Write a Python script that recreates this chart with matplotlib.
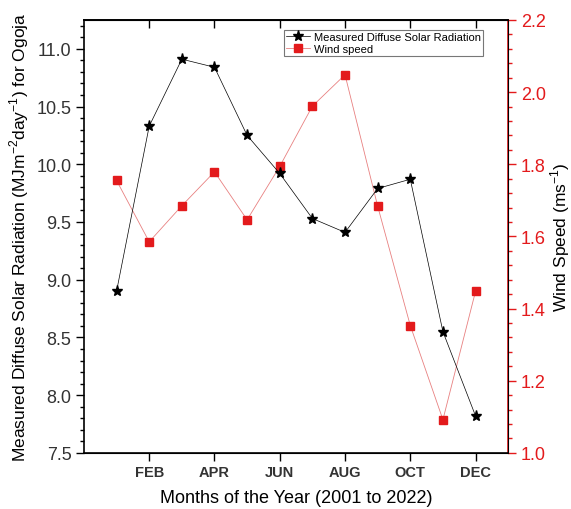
import matplotlib.pyplot as plt
from matplotlib.ticker import MultipleLocator

plt.rcParams['font.family'] = ['Liberation Sans', 'DejaVu Sans']
plt.rcParams['mathtext.fontset'] = 'custom'
plt.rcParams['mathtext.rm'] = 'Liberation Sans'

# Daten (Monate 1..12)
months = [1, 2, 3, 4, 5, 6, 7, 8, 9, 10, 11, 12]
radiation = [8.90, 10.33, 10.91, 10.84, 10.25, 9.92, 9.53, 9.41, 9.79, 9.87, 8.55, 7.82]
wind = [1.755, 1.585, 1.685, 1.779, 1.646, 1.794, 1.961, 2.048, 1.684, 1.353, 1.092, 1.448]
tick_pos = [2, 4, 6, 8, 10, 12]
tick_labels = ['FEB', 'APR', 'JUN', 'AUG', 'OCT', 'DEC']

red = '#e31a1c'
grey = '#333333'

fig = plt.figure(figsize=(5.71, 5.10), dpi=100)
ax = fig.add_axes([0.147, 0.110, 0.743, 0.849])
ax2 = ax.twinx()

l1, = ax.plot(months, radiation, color='black', lw=0.5, marker='*', ms=8,
              label='Measured Diffuse Solar Radiation')
l2, = ax2.plot(months, wind, color='#e88080', lw=0.6, marker='s', ms=5.5,
               mfc=red, mec=red, label='Wind speed')

ax.set_xlim(0, 13)
ax.set_ylim(7.5, 11.25)
ax2.set_ylim(1.0, 2.2)

ax.set_xticks(tick_pos)
ax.set_xticklabels(tick_labels, fontweight='bold', fontsize=10.5, color=grey)
ax.yaxis.set_major_locator(MultipleLocator(0.5))
ax.yaxis.set_minor_locator(MultipleLocator(0.1))
ax.yaxis.set_major_formatter('{x:.1f}')
ax2.yaxis.set_major_locator(MultipleLocator(0.2))
ax2.yaxis.set_minor_locator(MultipleLocator(0.04))
ax2.yaxis.set_major_formatter('{x:.1f}')

ax.tick_params(axis='y', direction='out', labelsize=13, labelcolor=grey, length=6, width=1, pad=3)
ax.tick_params(axis='y', which='minor', direction='out', length=3, width=1)
ax.tick_params(axis='x', direction='out', length=6, width=1, pad=3, top=False)
ax2.tick_params(axis='y', colors=red, labelsize=13, direction='out', length=6, width=1, pad=3)
ax2.tick_params(axis='y', which='minor', colors=red, direction='out', length=3, width=1)

# obere Ticks nach innen
sec = ax.secondary_xaxis('top')
sec.set_xticks(tick_pos)
sec.set_xticklabels([])
sec.tick_params(direction='in', length=6, width=1)

for s in ['left', 'bottom', 'top']:
    ax.spines[s].set_linewidth(1.2)
ax2.spines['right'].set_color(red)
ax2.spines['right'].set_linewidth(1.2)
ax2.spines['left'].set_visible(False)
sec.spines['top'].set_linewidth(1.2)

ax.set_xlabel('Months of the Year (2001 to 2022)', fontsize=13, labelpad=7)
ax.set_ylabel('Measured Diffuse Solar Radiation (MJm$^{-2}$day$^{-1}$) for Ogoja',
              fontsize=12.5, labelpad=4)
ax2.set_ylabel('Wind Speed (ms$^{-1}$)', fontsize=12.5, labelpad=2)

leg = ax.legend([l1, l2], ['Measured Diffuse Solar Radiation', 'Wind speed'],
                loc='upper right', bbox_to_anchor=(0.948, 0.985), fontsize=8,
                frameon=True, fancybox=False, edgecolor='#555555',
                handlelength=2.2, borderpad=0.2, labelspacing=0.15, borderaxespad=0.3,
                handletextpad=0.3)
leg.get_frame().set_linewidth(0.8)
ax.set_zorder(ax2.get_zorder() + 1)
ax.patch.set_visible(False)

fig.savefig('out.png', dpi=100)
